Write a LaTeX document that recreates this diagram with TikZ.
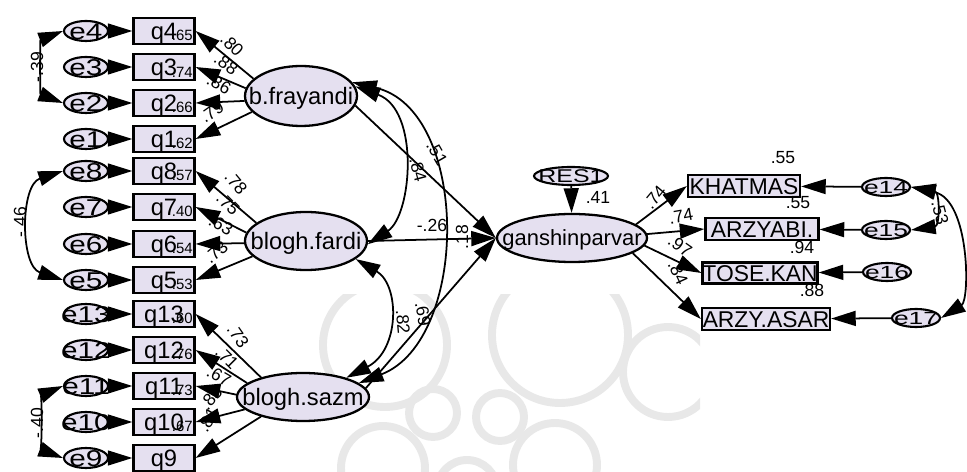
\documentclass[tikz,border=0pt]{standalone}
\usepackage{fontspec}
\usepackage{graphicx}
\setmainfont{Liberation Sans}
\usetikzlibrary{arrows.meta,shapes.geometric}
\definecolor{lav}{RGB}{229,224,240}
\definecolor{wmark}{RGB}{232,232,232}
\newcommand\fsz[1]{\fontsize{#1}{#1}\selectfont}
% centred text of zero size, optionally stretched horizontally
\newcommand\ctext[2][1]{\raisebox{-0.36em}[0pt][0pt]{\makebox[0pt]{\scalebox{#1}[1]{#2}}}}

\begin{document}
\begin{tikzpicture}[x=0.02cm,y=-0.02cm,line width=1pt,
  >={Triangle[length=14pt,width=8.5pt]},
  obs/.style={draw,fill=lav,rectangle,inner sep=0pt,line width=1.3pt,font=\fsz{13.5}},
  err/.style={draw,fill=lav,ellipse,inner sep=0pt,line width=1.2pt},
  lat/.style={draw,fill=lav,ellipse,inner sep=0pt,line width=1.3pt,font=\fsz{13.5}},
  coef/.style={font=\fsz{10},inner sep=0pt},
  smc/.style={font=\fsz{8.5},inner sep=0.6pt},
  cov/.style={<->,line width=1pt}]

\useasboundingbox[fill=white] (0,0) rectangle (967,472);

% faint ornament of interlaced rings in the background
\begin{scope}[draw=wmark,line width=4.5pt]
  \clip (300,295) rectangle (700,472);
  \draw (385,345) circle[radius=62];
  \draw (560,335) circle[radius=68];
  \draw (433,413) circle[radius=24];
  \draw (500,417) circle[radius=24];
  \draw (383,468) circle[radius=42];
  \draw (555,465) circle[radius=42];
  \draw (467,490) circle[radius=30];
  \draw (668,372) circle[radius=45];
\end{scope}

% left-hand indicators with their error terms
\foreach \n/\y/\r in {4/31/.65,3/67/.74,2/103/.66,1/139/.62,
                      8/171/.57,7/207/.40,6/244/.54,5/280/.53,
                      13/314/.60,12/350/.76,11/386/.73,10/422/.67,9/458/{}}{
  \node[obs,minimum width=1.22cm,minimum height=0.52cm] (q\n) at (164,\y) {\ctext{q\n}};
  \node[smc,anchor=south east] (r\n) at ([xshift=-0.6pt,yshift=1.2pt]q\n.south east) {\r};
  \node[err,minimum width=0.88cm,minimum height=0.4cm,font=\fsz{13}] (e\n) at (86,\y) {\ctext[1.3]{e\n}};
  \draw[->] (e\n.east) -- (q\n.west);
}

% latent variables
\node[lat,minimum width=2.24cm,minimum height=1.2cm] (fray) at (301,96) {\ctext{b.frayandi}};
\node[lat,minimum width=2.44cm,minimum height=1.16cm] (fardi) at (306,241) {\ctext{blogh.fardi}};
\node[lat,minimum width=2.64cm,minimum height=0.96cm] (sazm) at (303,397) {\ctext{blogh.sazm}};
\node[lat,minimum width=3.0cm,minimum height=0.96cm,font=\fsz{12.5}] (gansh) at (572,238) {\ctext{ganshinparvar}};
\node[err,minimum width=1.48cm,minimum height=0.36cm,font=\fsz{10.5}] (res) at (571,176) {\ctext[1.35]{RES1}};

% right-hand indicators
\node[obs,minimum width=2.24cm,minimum height=0.44cm,font=\fsz{13}] (khat) at (744,186) {\ctext{KHATMAS}};
\node[obs,minimum width=2.26cm,minimum height=0.44cm,font=\fsz{13}] (arzy) at (762,229) {\ctext{ARZYABI.}};
\node[obs,minimum width=2.30cm,minimum height=0.42cm,font=\fsz{13}] (tose) at (760,273) {\ctext{TOSE.KAN}};
\node[obs,minimum width=2.56cm,minimum height=0.44cm,font=\fsz{13}] (asar) at (766,319) {\ctext{ARZY.ASAR}};
\foreach \n/\x/\y in {14/886/187,15/886/230,16/887/272,17/916/318}{
  \node[err,minimum width=0.96cm,minimum height=0.36cm,font=\fsz{10}] (e\n) at (\x,\y) {\ctext[1.5]{e\n}};
}
\draw[->] (e14) -- (khat);
\draw[->] (e15) -- (arzy);
\draw[->] (e16) -- (tose);
\draw[->] (e17) -- (asar);

% loadings
\foreach \a/\q in {160/4,172/3,185/2,198/1}{ \draw[->] (fray.\a) -- (q\q.east); }
\foreach \a/\q in {160/8,172/7,182/6,196/5}{ \draw[->] (fardi.\a) -- (q\q.east); }
\foreach \a/\q in {155/13,166/12,178/11,192/10,205/9}{ \draw[->] (sazm.\a) -- (q\q.east); }

% structural paths
\draw[->] (fray.-10) -- (gansh.west);
\draw[->] (fardi.east) -- (gansh.west);
\draw[->] (sazm.8) -- (gansh.west);
\draw[->] (res) -- (gansh);
\draw[->] (gansh.12) -- (khat.west);
\draw[->] (gansh.3) -- (arzy.west);
\draw[->] (gansh.-6) -- (tose.west);
\draw[->] (gansh.-14) -- (asar.west);

% covariances
\draw[cov] (e4.west) .. controls (40,40) and (40,94) .. (e2.west);
\draw[cov] (e8.west) .. controls (20,185) and (20,266) .. (e5.west);
\draw[cov] (e11.west) .. controls (42,395) and (42,450) .. (e9.west);
\draw[cov] (fray.10) .. controls (420,110) and (412,215) .. (fardi.-3);
\draw[cov] (fray.15) .. controls (470,110) and (470,340) .. (sazm.14);
\draw[cov] (fardi.-20) .. controls (400,285) and (400,350) .. (sazm.24);
\draw[cov] (e14.east) .. controls (970,200) and (970,300) .. (e17.east);
\draw[cov] (e14.east) .. controls (940,192) and (940,226) .. (e15.east);

% estimates
\foreach \x/\y/\r/\t [count=\i] in {
  37/67/90/-.39, 20/222/90/-.46, 37/423/90/-.40,
  232/45/-45/.80, 226/64/-35/.88, 219/84/-30/.86, 212/112/35/.79,
  236/183/-50/.78, 228/204/-45/.75, 221/225/-30/.63, 216/252/40/.73,
  238/336/-55/.73, 227/358/-45/.71, 219/376/-30/.67, 211/398/50/.83, 208/420/60/.81,
  437/153/-60/.51, 418/170/-75/.84, 432/225/0/-.26, 462/237/90/.18,
  403/322/-85/.82, 423/314/-80/.69, 598/197/0/.41,
  655/197/50/.74, 681/216/10/.74, 680/246/-35/.97, 678/273/-65/.84,
  783/158/0/.55, 798/203/0/.55, 802/247/0/.94, 812/290/0/.88,
  940/213/-75/.53}{
  \node[coef,rotate=\r] (est\i) at (\x,\y) {\t};
}
\end{tikzpicture}
\end{document}
